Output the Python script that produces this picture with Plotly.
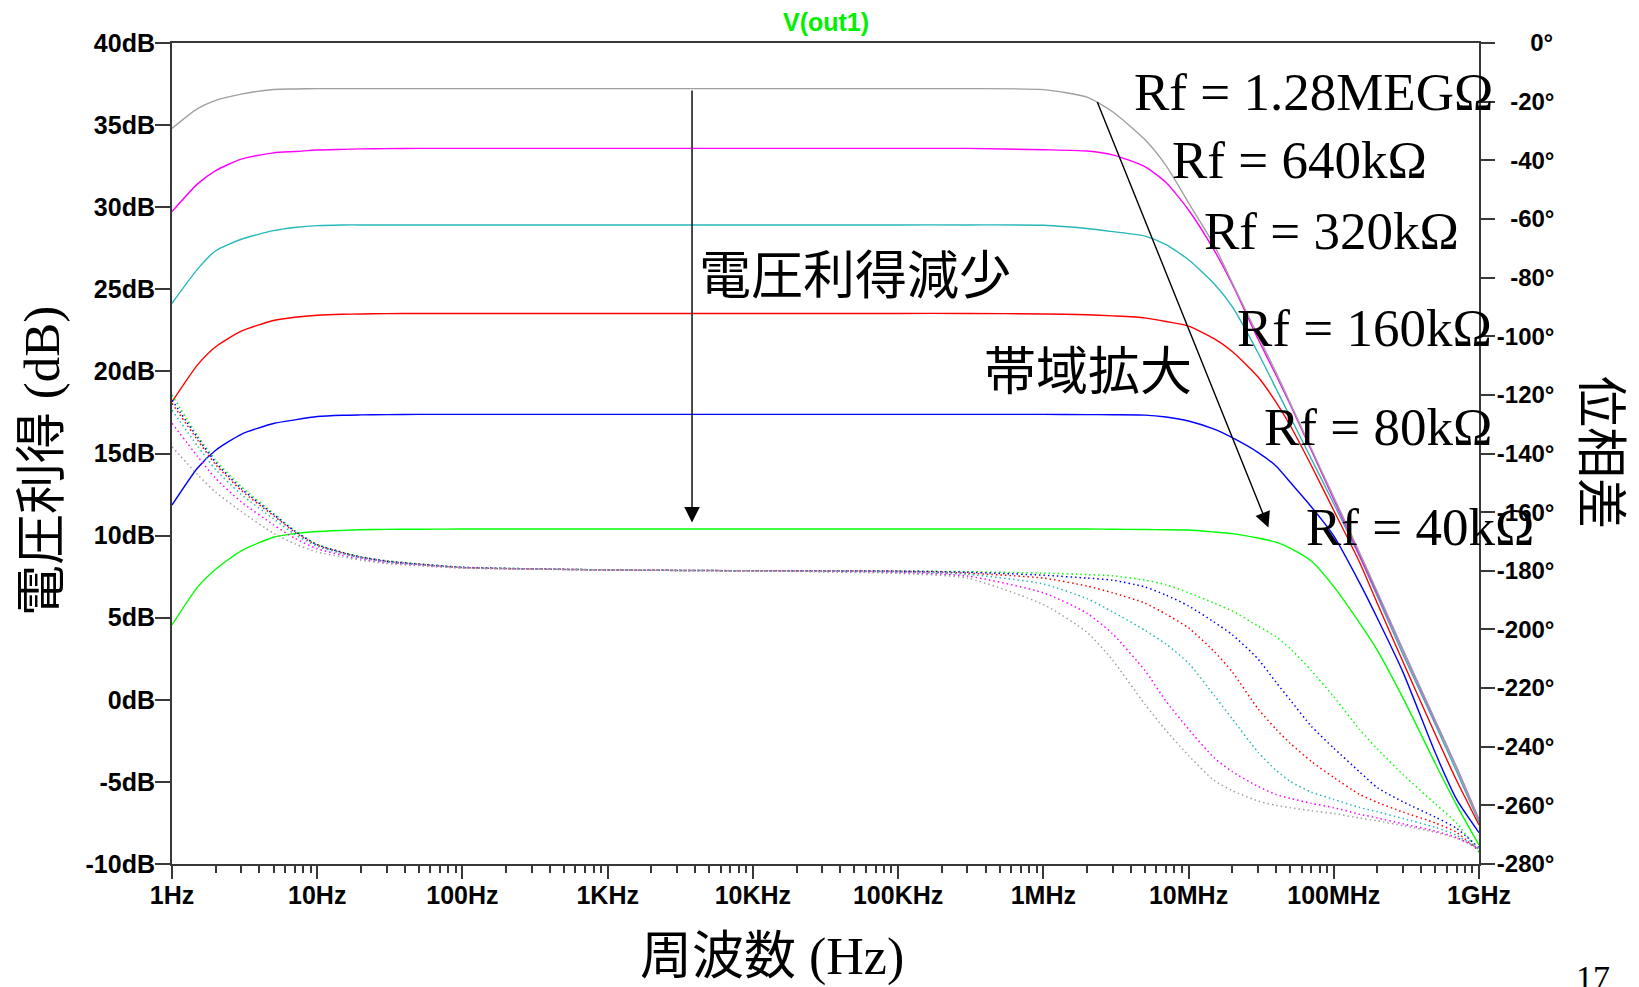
import math
import plotly.graph_objects as go

# ---------------- data ----------------
FREQ = [1, 1.5, 2, 3, 5, 7, 10, 15, 20, 30, 50, 100,
        1e3, 1e4, 1e5,
        3e5, 1e6, 2e6, 3e6, 5e6, 7e6, 1e7, 1.5e7, 2e7, 3e7, 4e7, 5e7, 7e7,
        1e8, 1.5e8, 2e8, 3e8, 5e8, 7e8, 1e9]

RF_NAMES = ["40k", "80k", "160k", "320k", "640k", "1.28MEG"]
COLORS = ["#00ff00", "#0000ff", "#ff0000", "#26b8b8", "#ff00ff", "#a0a0a0"]

GAIN_40K = [4.56, 6.86, 7.95, 9.07, 9.9, 10.12, 10.25, 10.32, 10.36, 10.38, 10.39, 10.40,
            10.40, 10.40, 10.40,
            10.40, 10.40, 10.40, 10.39, 10.37, 10.36, 10.34, 10.22, 10.12, 9.85, 9.6, 9.24, 8.45,
            6.89, 4.7, 3.0, 0.1, -3.88, -6.4, -8.85]
GAIN_80K = [11.86, 14.12, 15.2, 16.17, 16.83, 17.05, 17.25, 17.33, 17.35, 17.37, 17.38, 17.38,
            17.38, 17.38, 17.38,
            17.38, 17.38, 17.37, 17.36, 17.34, 17.22, 16.98, 16.48, 15.96, 15.07, 14.24, 13.26, 11.76,
            9.98, 7.15, 4.95, 1.67, -3.23, -6.05, -8.09]
GAIN_160K = [18.15, 20.4, 21.5, 22.45, 23.1, 23.3, 23.42, 23.48, 23.5, 23.52, 23.53, 23.53,
             23.53, 23.53, 23.53,
             23.53, 23.5, 23.45, 23.38, 23.26, 23.04, 22.76, 21.99, 21.21, 19.67, 18.13, 16.72, 14.27,
             11.53, 8.41, 5.85, 2.3, -2.1, -4.9, -7.62]
GAIN_320K = [24.15, 26.23, 27.35, 28.05, 28.57, 28.76, 28.88, 28.92, 28.92, 28.92, 28.92, 28.92,
             28.92, 28.92, 28.92,
             28.92, 28.9, 28.7, 28.51, 28.24, 27.72, 26.8, 25.34, 23.94, 21.15, 18.96, 17.25, 14.68,
             11.94, 8.75, 6.28, 2.75, -1.5, -4.35, -7.45]
GAIN_640K = [29.73, 31.42, 32.23, 32.93, 33.31, 33.39, 33.48, 33.52, 33.55, 33.57, 33.58, 33.58,
             33.58, 33.58, 33.58,
             33.58, 33.5, 33.42, 33.19, 32.47, 31.5, 29.83, 27.38, 25.31, 22.0, 19.78, 18.0, 15.2,
             12.2, 8.85, 6.45, 3.0, -1.3, -4.1, -7.3]
GAIN_1M28 = [34.8, 36.0, 36.51, 36.89, 37.17, 37.2, 37.22, 37.22, 37.22, 37.22, 37.22, 37.22,
             37.22, 37.22, 37.22,
             37.22, 37.16, 36.7, 35.81, 34.12, 32.53, 30.27, 27.69, 25.4, 22.2, 19.95, 18.1, 15.3,
             12.35, 9.0, 6.55, 3.05, -1.25, -4.1, -7.35]

PHASE_40K = [-120.0, -134.0, -142.3, -151.3, -160.4, -166.3, -171.0, -173.7, -175.2, -176.6, -177.6, -178.8,
             -179.7, -180.0, -180.1,
             -180.3, -180.8, -181.3, -181.7, -183.2, -184.8, -187.5, -191.0, -193.7, -198.8, -202.5, -206.5, -214.0,
             -223.0, -234.0, -240.8, -249.5, -259.5, -266.0, -276.0]
PHASE_80K = [-121.8, -134.6, -143.1, -152.0, -160.8, -166.5, -171.1, -173.8, -175.3, -176.7, -177.7, -178.8,
             -179.7, -180.0, -180.1,
             -180.5, -181.5, -182.5, -183.2, -185.5, -188.3, -192.0, -197.5, -201.8, -210.0, -218.0, -224.0, -233.0,
             -240.5, -248.5, -254.0, -258.8, -264.0, -267.8, -274.5]
PHASE_160K = [-122.9, -135.4, -143.8, -152.6, -161.2, -166.8, -171.3, -173.9, -175.4, -176.8, -177.8, -178.9,
              -179.7, -180.0, -180.2,
              -180.8, -182.5, -185.2, -187.5, -191.0, -194.8, -199.5, -207.5, -214.5, -227.0, -234.0, -238.8, -245.0,
              -250.5, -256.2, -259.0, -262.3, -266.0, -269.2, -275.5]
PHASE_320K = [-125.2, -137.5, -145.5, -154.0, -162.3, -167.6, -171.7, -174.2, -175.6, -177.0, -177.9, -178.9,
              -179.7, -180.0, -180.4,
              -181.2, -184.5, -189.5, -194.0, -200.3, -205.0, -211.5, -222.5, -230.5, -241.8, -248.0, -251.8, -255.5,
              -258.0, -260.7, -262.2, -264.5, -267.5, -270.2, -275.0]
PHASE_640K = [-129.7, -141.0, -148.5, -156.5, -164.3, -168.9, -172.5, -174.7, -176.0, -177.3, -178.1, -179.0,
              -179.7, -180.0, -180.6,
              -181.8, -187.5, -194.5, -201.5, -214.0, -224.5, -234.0, -243.8, -248.5, -253.5, -256.3, -257.6, -259.3,
              -260.8, -263.0, -264.3, -266.3, -268.8, -271.0, -274.8]
PHASE_1M28 = [-137.7, -147.2, -153.2, -159.8, -167.2, -170.8, -173.6, -175.3, -176.4, -177.5, -178.3, -179.1,
              -179.7, -180.05, -180.9,
              -182.5, -191.5, -201.0, -210.5, -225.5, -234.5, -243.0, -251.5, -255.0, -258.5, -260.0, -260.8, -261.8,
              -262.8, -264.3, -265.3, -266.9, -269.2, -271.2, -274.5]

GAINS = [GAIN_40K, GAIN_80K, GAIN_160K, GAIN_320K, GAIN_640K, GAIN_1M28]
PHASES = [PHASE_40K, PHASE_80K, PHASE_160K, PHASE_320K, PHASE_640K, PHASE_1M28]

X_TICK_VALUES = [1, 10, 100, 1e3, 1e4, 1e5, 1e6, 1e7, 1e8, 1e9]
X_TICK_LABELS = ["1Hz", "10Hz", "100Hz", "1KHz", "10KHz", "100KHz", "1MHz", "10MHz", "100MHz", "1GHz"]
X_MINOR_TICKS = [k * 10 ** n for n in range(9) for k in range(2, 10)]
GAIN_TICKS = list(range(-10, 41, 5))
GAIN_TICK_LABELS = [f"{v}dB" for v in GAIN_TICKS]
PHASE_TICKS = list(range(0, -281, -20))


def pad_phase(v):
    s = f"{v}°"
    if v == 0:
        return "\u2007\u2007\u2008" + s
    if v > -100:
        return "\u2007" + s
    return s


PHASE_TICK_LABELS = [pad_phase(v) for v in PHASE_TICKS]

# annotation arrows (frequency, dB)
ARROW_GAIN_TAIL = (3.81e3, 37.2)
ARROW_GAIN_HEAD = (3.81e3, 10.8)
ARROW_BW_TAIL = (2.33e6, 36.5)
ARROW_BW_HEAD = (3.55e7, 10.5)

# ---------------- layout geometry (page pixels) ----------------
BODY = 8                       # default page margin around the plot div
W, H = 1639 - BODY, 987 - BODY
PL, PR, PT, PB = 172, 1479, 43, 864   # plot area in page pixels


def px(x):
    return (x - PL) / (PR - PL)


def py(y):
    return (PB - y) / (PB - PT)


SANS_B = "Liberation Sans, Arial, sans-serif"
SERIF = "Liberation Serif, Times New Roman, serif"
CJK = "Noto Sans CJK JP, Noto Sans CJK SC, sans-serif"
MIXED = "Liberation Serif, Times New Roman, Noto Sans CJK JP, serif"
AXC = "#383838"

fig = go.Figure()

for name, col, g in zip(RF_NAMES, COLORS, GAINS):
    fig.add_trace(go.Scatter(x=FREQ, y=g, mode="lines", name=f"Rf={name} gain",
                             line=dict(color=col, width=1.4, shape="spline", smoothing=0.6),
                             yaxis="y", hoverinfo="skip"))
for name, col, p in zip(RF_NAMES, COLORS, PHASES):
    fig.add_trace(go.Scatter(x=FREQ, y=p, mode="lines", name=f"Rf={name} phase",
                             line=dict(color=col, width=1.5, dash="1.5px,3px", shape="spline", smoothing=0.6),
                             yaxis="y2", hoverinfo="skip"))

tickfont = dict(family=SANS_B, size=25, color="black", weight="bold")

fig.update_layout(
    width=W, height=H, autosize=False,
    margin=dict(l=PL - BODY, r=(W + BODY) - PR, t=PT - BODY, b=(H + BODY) - PB, pad=0),
    paper_bgcolor="white", plot_bgcolor="white",
    showlegend=False,
    xaxis=dict(type="log", range=[0, 9], tickmode="array", tickvals=X_TICK_VALUES, ticktext=X_TICK_LABELS,
               ticks="outside", ticklen=13, tickwidth=2, tickcolor=AXC,
               minor=dict(tickmode="array", tickvals=X_MINOR_TICKS, ticks="outside", ticklen=7,
                          tickwidth=2, tickcolor=AXC, showgrid=False),
               showline=True, linecolor=AXC, linewidth=2, mirror=True,
               showgrid=False, zeroline=False, tickfont=tickfont),
    yaxis=dict(range=[-10, 40], tickmode="array", tickvals=GAIN_TICKS, ticktext=GAIN_TICK_LABELS,
               ticks="outside", ticklen=15, tickwidth=2, tickcolor=AXC,
               showline=True, linecolor=AXC, linewidth=2,
               showgrid=False, zeroline=False, tickfont=tickfont),
    yaxis2=dict(range=[-280, 0], overlaying="y", side="right", anchor="x",
                tickmode="array", tickvals=PHASE_TICKS, ticktext=PHASE_TICK_LABELS,
                ticks="outside", ticklen=14, tickwidth=2, tickcolor=AXC,
                showline=True, linecolor=AXC, linewidth=2,
                showgrid=False, zeroline=False, tickfont=dict(family=SANS_B, size=24, color="black", weight="bold")),
)

# pull tick labels a little closer to the axes (if supported)
for axname, off in (("xaxis", -5), ("yaxis", -5), ("yaxis2", -3)):
    try:
        fig.update_layout({axname: dict(ticklabelstandoff=off)})
    except Exception:
        pass

ann = []
# title
ann.append(dict(text="V(out1)", xref="paper", yref="paper", x=0.5, y=py(22), xanchor="center", yanchor="middle",
                showarrow=False, font=dict(family=SANS_B, size=25, color="#00f000", weight="bold")))
# axis titles
ann.append(dict(text="電圧利得 (dB)", xref="paper", yref="paper", x=px(42), y=py(461), textangle=-90,
                xanchor="center", yanchor="middle", showarrow=False, font=dict(family=MIXED, size=51, color="black")))
ann.append(dict(text="周波数 (Hz)", xref="paper", yref="paper", x=px(772), y=py(957),
                xanchor="center", yanchor="middle", showarrow=False, font=dict(family=MIXED, size=52, color="black")))
ann.append(dict(text="位相差", xref="paper", yref="paper", x=px(1605), y=py(452), textangle=90,
                xanchor="center", yanchor="middle", showarrow=False, font=dict(family=CJK, size=51, color="black")))
# Japanese callouts
ann.append(dict(text="電圧利得減少", xref="paper", yref="paper", x=px(855), y=py(271),
                xanchor="center", yanchor="middle", showarrow=False, font=dict(family=CJK, size=52, color="black")))
ann.append(dict(text="帯域拡大", xref="paper", yref="paper", x=px(1088), y=py(367),
                xanchor="center", yanchor="middle", showarrow=False, font=dict(family=CJK, size=52, color="black")))
# Rf labels  (left edge px, cap-centre px)
RF_LABEL_POS = [(1307, 527), (1265, 427), (1238, 328), (1205, 231), (1173, 160), (1135, 92)]
for name, (lx, ly) in zip(RF_NAMES, RF_LABEL_POS):
    ann.append(dict(text=f"Rf = {name}Ω", xref="paper", yref="paper", x=px(lx - 3), y=py(ly),
                    xanchor="left", yanchor="middle", showarrow=False,
                    font=dict(family=SERIF, size=53, color="black")))
# page number
ann.append(dict(text="17", xref="paper", yref="paper", x=px(1593), y=py(977),
                xanchor="center", yanchor="middle", showarrow=False, font=dict(family=SERIF, size=34, color="black")))
# arrows
for tail, head in [(ARROW_GAIN_TAIL, ARROW_GAIN_HEAD), (ARROW_BW_TAIL, ARROW_BW_HEAD)]:
    ann.append(dict(text="", xref="x", yref="y", axref="x", ayref="y",
                    x=math.log10(head[0]), y=head[1], ax=math.log10(tail[0]), ay=tail[1],
                    showarrow=True, arrowhead=2, arrowsize=2.2, arrowwidth=1.4, arrowcolor="black",
                    standoff=0, startstandoff=0))

fig.update_layout(annotations=ann)
fig.write_html("out.html")
